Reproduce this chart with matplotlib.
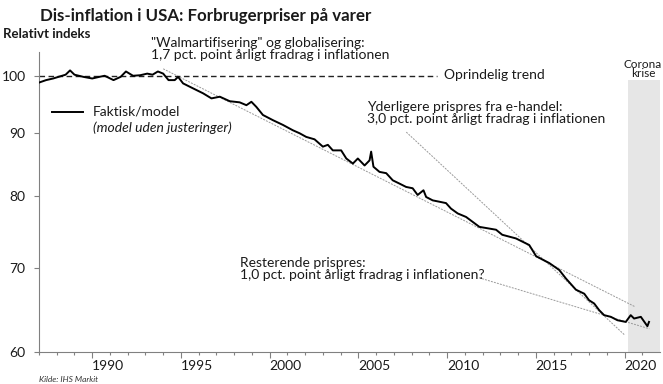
import matplotlib
matplotlib.use('Agg')
import matplotlib.pyplot as plt
from matplotlib.ticker import NullLocator
from matplotlib.transforms import ScaledTranslation

# Faktisk/model-indeks (år, relativt indeks)
years = [1987.0, 1987.4, 1987.8, 1988.3, 1988.5, 1988.75, 1989.0, 1989.5, 1990.0, 1990.4,
         1990.7, 1991.2, 1991.6, 1991.9, 1992.3, 1992.7, 1993.1, 1993.4, 1993.7, 1994.0,
         1994.3, 1994.65, 1994.84, 1995.12, 1995.68, 1996.25, 1996.72, 1997.19, 1997.75, 1998.31,
         1998.69, 1998.97, 1999.25, 1999.62, 2000.19, 2000.75, 2001.31, 2001.69, 2002.06, 2002.53,
         2003.0, 2003.28, 2003.56, 2004.03, 2004.32, 2004.69, 2004.97, 2005.35, 2005.63, 2005.72,
         2005.85, 2006.19, 2006.57, 2006.94, 2007.32, 2007.69, 2008.06, 2008.34, 2008.67, 2008.82,
         2009.19, 2009.57, 2009.94, 2010.22, 2010.6, 2011.07, 2011.82, 2012.76, 2013.11, 2013.88,
         2014.63, 2015.02, 2015.76, 2016.32, 2016.7, 2017.26, 2017.73, 2018.0, 2018.29, 2018.57,
         2018.85, 2019.23, 2019.6, 2020.07, 2020.35, 2020.54, 2020.92, 2021.29, 2021.38]
index = [98.75, 99.2, 99.5, 100.0, 100.2, 101.0, 100.2, 99.8, 99.5, 99.8,
         100.0, 99.2, 99.8, 100.8, 100.0, 100.1, 100.4, 100.2, 100.8, 100.4,
         99.2, 99.2, 99.8, 98.6, 97.7, 96.8, 95.9, 96.2, 95.4, 95.2,
         94.7, 95.3, 94.4, 93.0, 92.1, 91.3, 90.4, 89.9, 89.3, 88.9,
         87.7, 88.0, 87.1, 87.1, 85.8, 85.0, 85.8, 84.7, 85.5, 86.9,
         84.5, 83.7, 83.5, 82.4, 81.9, 81.4, 81.2, 80.2, 80.9, 79.9,
         79.4, 79.2, 79.0, 78.2, 77.5, 77.0, 75.6, 75.2, 74.5, 74.0,
         73.1, 71.6, 70.7, 69.8, 68.7, 67.3, 66.8, 66.0, 65.6, 64.8,
         64.2, 64.0, 63.6, 63.4, 64.2, 63.8, 64.0, 62.9, 63.4]

# Trendlinjer (start/slut)
trend_x, trend_y = [1987.0, 2009.45], [100, 100]
walmart_x, walmart_y = [1994.0, 2020.6], [101.3, 65.2]
ehandel_x, ehandel_y = [2007.7, 2020.0], [90.1, 61.9]
rest_x, rest_y = [2011.8, 2021.4], [68.8, 62.6]

# Corona-periode
corona_x = [2020.2, 2022.0]
corona_top = 99.2

W, H = 663, 384
plt.rcParams['font.family'] = ['Lato', 'DejaVu Sans']
txt_col = '#1a1a1a'


def px(x, y):
    return x / W, 1 - y / H


fig = plt.figure(figsize=(W / 100, H / 100), dpi=100)
ax = fig.add_axes([39 / W, 1 - 351.7 / H, (660 - 39) / W, (351.7 - 52) / H])
ax.set_yscale('log')

ax.fill_between(corona_x, 60, corona_top, color='#e6e6e6', lw=0, zorder=0)
ax.plot(trend_x, trend_y, color='#222222', lw=1.0, ls=(0, (4, 2.5)))
grey = dict(color='#9a9a9a', lw=0.7, ls=(0, (2, 1.2)))
ax.plot(walmart_x, walmart_y, **grey)
ax.plot(ehandel_x, ehandel_y, **grey)
ax.plot(rest_x, rest_y, **grey)
ax.plot(years, index, color='black', lw=1.4, zorder=3)

ax.set_xlim(1987, 2022)
ax.set_ylim(60, 104.5)
ax.set_yticks([60, 70, 80, 90, 100], labels=['60', '70', '80', '90', '100'])
ax.yaxis.set_minor_locator(NullLocator())
ax.set_xticks(range(1990, 2021, 5))
ax.set_xticks(range(1987, 2022), minor=True)

for s in ['top', 'right']:
    ax.spines[s].set_visible(False)
for s in ['left', 'bottom']:
    ax.spines[s].set_color('#808080')
    ax.spines[s].set_linewidth(0.8)
ax.tick_params(axis='y', length=3.6, width=0.8, color='#808080', labelsize=10,
               labelcolor=txt_col, pad=6)
ax.tick_params(axis='x', which='major', length=4.3, width=0.8, color='#808080',
               labelsize=10, labelcolor=txt_col, pad=1.5)
ax.tick_params(axis='x', which='minor', length=2.2, width=0.8, color='#808080')
offset = ScaledTranslation(0.16, 0, fig.dpi_scale_trans)
for lab in ax.get_xticklabels():
    lab.set_transform(lab.get_transform() + offset)

fig.text(*px(40, 16), 'Dis-inflation i USA: Forbrugerpriser på varer', fontsize=12.2,
         fontweight='bold', va='center', color=txt_col)
fig.text(*px(3, 34), 'Relativt indeks', fontsize=9.5, fontweight='bold', va='center',
         color=txt_col)
fig.text(*px(151, 37), '"Walmartifisering" og globalisering:\n1,7 pct. point årligt fradrag i inflationen',
         fontsize=10, va='top', color=txt_col, linespacing=1.0)
fig.text(*px(444, 75), 'Oprindelig trend', fontsize=10, va='center', color=txt_col)
fig.text(*px(367, 101), 'Yderligere prispres fra e-handel:\n3,0 pct. point årligt fradrag i inflationen',
         fontsize=10, va='top', color=txt_col, linespacing=1.0)
fig.text(*px(240, 257), 'Resterende prispres:\n1,0 pct. point årligt fradrag i inflationen?',
         fontsize=10, va='top', color=txt_col, linespacing=1.0)
fig.text(*px(643, 69), 'Corona\nkrise', fontsize=8.5, va='center', ha='center',
         color=txt_col, linespacing=0.85)

# legende
fig.lines.append(plt.Line2D([52 / W, 83 / W], [1 - 111.5 / H] * 2, color='black', lw=1.4,
                            transform=fig.transFigure))
fig.text(*px(93, 111), 'Faktisk/model', fontsize=10, va='center', color=txt_col)
fig.text(*px(93, 128), '(model uden justeringer)', fontsize=10, va='center', style='italic',
         color=txt_col)

fig.text(*px(39, 379), 'Kilde: IHS Markit', fontsize=6, style='italic', va='center',
         color='#333333')

fig.savefig('out.png', dpi=100)
